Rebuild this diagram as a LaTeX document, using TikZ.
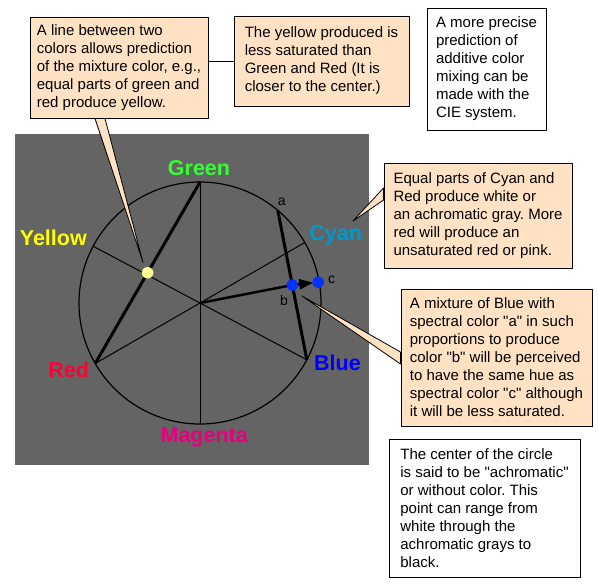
\documentclass[tikz,border=0pt]{standalone}
\usepackage{fontspec}
\setmainfont{Liberation Sans}
\usepackage{xcolor}
\usepackage{tikz}
\usetikzlibrary{arrows.meta, calc}
\definecolor{boardgray}{RGB}{100, 100, 100}
\definecolor{notepeach}{RGB}{255, 226, 196}
\definecolor{huegreen}{RGB}{51, 255, 51}
\definecolor{hueyellow}{RGB}{255, 255, 0}
\definecolor{huecyan}{RGB}{0, 153, 204}
\definecolor{huered}{RGB}{255, 0, 51}
\definecolor{hueblue}{RGB}{0, 0, 255}
\definecolor{huemagenta}{RGB}{230, 0, 126}
\definecolor{dotyellow}{RGB}{255, 255, 153}
\definecolor{dotblue}{RGB}{0, 51, 255}
\pgfdeclarelayer{notes}
\pgfsetlayers{main,notes}
\newcommand{\qt}[1]{\textquotedbl#1\textquotedbl}
\frenchspacing

\begin{document}
\begin{tikzpicture}[
    x=1pt, y=-1pt,
    note/.style={rectangle, draw, line width=1pt, fill=notepeach, align=left, inner sep=0pt, font=\fontsize{15}{18}\selectfont},
    plainnote/.style={note, fill=white},
    pointer/.style={draw, line width=0.8pt, fill=notepeach, line join=round},
    hue/.style={anchor=base, font=\fontsize{21.5}{24}\selectfont\bfseries},
    tag/.style={anchor=base, font=\fontsize{14}{16}\selectfont},
    spoke/.style={line width=1pt},
    heavy/.style={line width=3pt},
    dot/.style={circle, inner sep=0pt, minimum size=11.5pt}
]
    \useasboundingbox (0,0) rectangle (598,587);

    % Board and hue circle
    \fill[boardgray] (15,134) rectangle (369,465);
    \coordinate (O) at (200,303);
    \foreach \name/\ang in {green/-90, cyan/-30, blue/28, magenta/90, red/150, yellow/-152}
        \coordinate (\name) at ($(O)+(\ang:121)$);
    \coordinate (apt) at ($(O)+(-50:121)$);
    \coordinate (cpt) at ($(O)+(-10:120)$);
    \coordinate (bpt) at ($(apt)!0.5!(blue)$);

    \draw[line width=1.2pt] (O) circle (121);
    \foreach \name in {green, cyan, blue, magenta, red, yellow}
        \draw[spoke] (O) -- (\name);

    % Mixtures
    \draw[heavy] (green) -- (red);
    \draw[heavy] (apt) -- (blue);
    \draw[line width=2.5pt] (O) -- (bpt);
    \draw[line width=2.5pt, -{Triangle[length=14pt, width=10pt]}, shorten <=5pt, shorten >=5pt] (bpt) -- (cpt);
    \node[dot, fill=dotyellow] (ydot) at ($(green)!0.5!(red)$) {};
    \node[dot, fill=dotblue] (bdot) at (bpt) {};
    \node[dot, fill=dotblue] (cdot) at (cpt) {};

    % Hue names
    \node[hue, text=huegreen] (greenlbl) at (199,175) {Green};
    \node[hue, text=hueyellow] (yellowlbl) at (53.3,245) {Yellow};
    \node[hue, text=huecyan] (cyanlbl) at (335.7,240) {Cyan};
    \node[hue, text=huered] (redlbl) at (68.7,377.7) {Red};
    \node[hue, text=hueblue] (bluelbl) at (337.5,370.7) {Blue};
    \node[hue, text=huemagenta] (magentalbl) at (204.2,442.7) {Magenta};
    \node[tag] (alb) at (281.7,205) {a};
    \node[tag] (blb) at (284,305) {b};
    \node[tag] (clb) at (331.7,283.3) {c};

    % Notes
    \begin{pgfonlayer}{notes}
    \node[note, minimum width=178pt, minimum height=101pt] (mixbox) at (119,67.5)
        {A line between two\\colors allows prediction\\of the mixture color, e.g.,\\equal parts of green and\\red produce yellow.};
    \node[note, minimum width=175pt, minimum height=90pt] (lessbox) at (321.5,61)
        {The yellow produced is\\less saturated than\\Green and Red (It is\\closer to the center.)};
    \node[plainnote, minimum width=119pt, minimum height=122pt] (ciebox) at (486.5,69)
        {A more precise\\prediction of\\additive color\\mixing can be\\made with the\\CIE system.};
    \node[note, minimum width=188pt, minimum height=105pt] (cyanbox) at (478,215.5)
        {Equal parts of Cyan and\\Red produce white or\\an achromatic gray. More\\red will produce an\\unsaturated red or pink.};
    \node[note, minimum width=191pt, minimum height=137pt] (bluebox) at (496.5,357.5)
        {A mixture of Blue with\\spectral color \qt{a} in such\\proportions to produce\\color \qt{b} will be perceived\\to have the same hue as\\spectral color \qt{c} although\\it will be less saturated.};
    \node[plainnote, minimum width=191pt, minimum height=138pt] (centerbox) at (484.5,508)
        {The center of the circle\\is said to be \qt{achromatic}\\or without color. This\\point can range from\\white through the\\achromatic grays to\\black.};
    \end{pgfonlayer}

    % Pointers
    \coordinate (mixtip) at ($(ydot)+(-4.5,-10)$);
    \coordinate (cyantip) at (353,221);
    \coordinate (bluetip) at (302,296);
    \draw[pointer] ($(mixbox.south)+(-24,0)$) -- (mixtip) -- ($(mixbox.south)+(-14,0)$) -- cycle;
    \draw[pointer] ($(cyanbox.west)+(0,-27.5)$) -- (cyantip) -- ($(cyanbox.west)+(0,-15.5)$) -- cycle;
    \draw[pointer] ($(bluebox.west)+(0,-5.5)$) -- (bluetip) -- ($(bluebox.west)+(0,6.5)$) -- cycle;
    \draw[line width=1pt] (lessbox.west) -- (lessbox.west -| mixbox.east);
\end{tikzpicture}
\end{document}
